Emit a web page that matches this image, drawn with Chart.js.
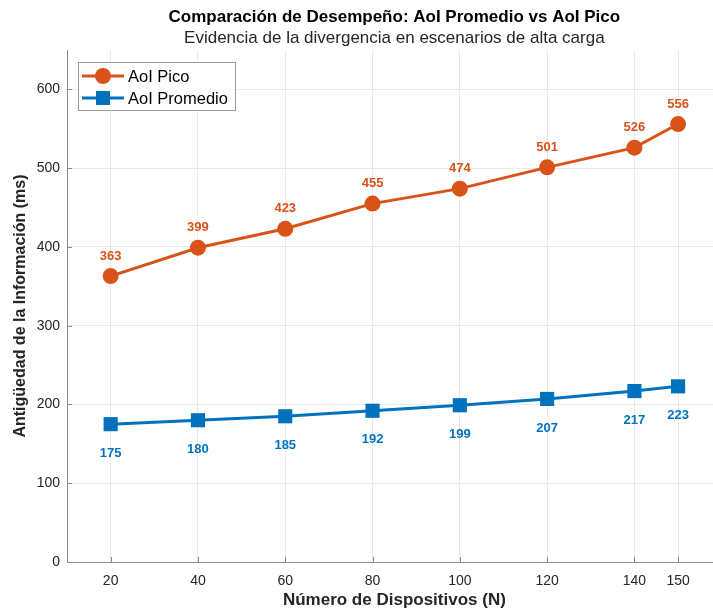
<!DOCTYPE html>
<html>
<head>
<meta charset="utf-8">
<script src="https://cdn.jsdelivr.net/npm/chart.js@4.4.1/dist/chart.umd.min.js"></script>
<style>
  html, body { margin: 0; padding: 0; background: #ffffff; }
  #wrap { width: 713px; height: 612px; }
</style>
</head>
<body>
<div id="wrap"><canvas id="c" width="713" height="612"></canvas></div>
<script>
// Number of devices on the x axis
const devices = [20, 40, 60, 80, 100, 120, 140, 150];
// Peak AoI (ms) for each device count
const aoiPico = [363, 399, 423, 455, 474, 501, 526, 556];
// Average AoI (ms) for each device count
const aoiPromedio = [175, 180, 185, 192, 199, 207, 217, 223];
// Tick values
const xTicks = [20, 40, 60, 80, 100, 120, 140, 150];
const yTicks = [0, 100, 200, 300, 400, 500, 600];

const ORANGE = '#D95319';
const BLUE = '#0072BD';
const AXIS = '#8a8a8a';
const TEXT = '#262626';
const FONT = '"Liberation Sans", Arial, Helvetica, sans-serif';

const titleText = 'Comparación de Desempeño: AoI Promedio vs AoI Pico';
const subtitleText = 'Evidencia de la divergencia en escenarios de alta carga';
const xTitle = 'Número de Dispositivos (N)';
const yTitle = 'Antigüedad de la Información (ms)';

// Titles, axis titles, inward tick marks, value labels and legend box
const decorations = {
  id: 'decorations',
  beforeDatasetsDraw(chart) {
    const { ctx, chartArea: a, scales: { x, y } } = chart;
    ctx.save();
    ctx.strokeStyle = AXIS;
    ctx.lineWidth = 1;
    ctx.beginPath();
    xTicks.forEach(v => {
      const px = Math.round(x.getPixelForValue(v)) + 0.5;
      ctx.moveTo(px, a.bottom);
      ctx.lineTo(px, a.bottom - 5);
    });
    yTicks.forEach(v => {
      const py = Math.round(y.getPixelForValue(v)) + 0.5;
      ctx.moveTo(a.left, py);
      ctx.lineTo(a.left + 5, py);
    });
    ctx.stroke();
    ctx.restore();
  },
  afterDatasetsDraw(chart) {
    const { ctx, chartArea: a, scales: { x, y } } = chart;
    ctx.save();
    const cx = (a.left + x.getPixelForValue(160)) / 2;

    // titles
    ctx.fillStyle = '#000000';
    ctx.textAlign = 'center';
    ctx.textBaseline = 'middle';
    ctx.font = 'bold 17px ' + FONT;
    ctx.fillText(titleText, cx, 17);
    ctx.fillStyle = TEXT;
    ctx.font = '17px ' + FONT;
    ctx.fillText(subtitleText, cx, 38);

    // axis titles
    ctx.fillStyle = TEXT;
    ctx.font = 'bold 17px ' + FONT;
    ctx.fillText(xTitle, cx, 600);
    ctx.save();
    ctx.font = 'bold 16px ' + FONT;
    ctx.translate(21, (a.top + a.bottom) / 2);
    ctx.rotate(-Math.PI / 2);
    ctx.fillText(yTitle, 0, 0);
    ctx.restore();

    // value labels
    ctx.font = 'bold 13px ' + FONT;
    ctx.fillStyle = ORANGE;
    devices.forEach((d, i) => {
      ctx.fillText(String(aoiPico[i]), x.getPixelForValue(d), y.getPixelForValue(aoiPico[i]) - 20);
    });
    ctx.fillStyle = BLUE;
    devices.forEach((d, i) => {
      ctx.fillText(String(aoiPromedio[i]), x.getPixelForValue(d), y.getPixelForValue(aoiPromedio[i]) + 29);
    });

    // legend
    const lx = 78, ly = 62, lw = 157, lh = 48;
    ctx.fillStyle = '#ffffff';
    ctx.fillRect(lx, ly, lw, lh);
    ctx.strokeStyle = '#9a9a9a';
    ctx.lineWidth = 1;
    ctx.strokeRect(lx + 0.5, ly + 0.5, lw, lh);
    const rows = [
      { label: 'AoI Pico', color: ORANGE, style: 'circle', y: ly + 14 },
      { label: 'AoI Promedio', color: BLUE, style: 'rect', y: ly + 36 }
    ];
    rows.forEach(r => {
      ctx.strokeStyle = r.color;
      ctx.lineWidth = 3;
      ctx.beginPath();
      ctx.moveTo(lx + 4, r.y);
      ctx.lineTo(lx + 46, r.y);
      ctx.stroke();
      ctx.fillStyle = r.color;
      if (r.style === 'circle') {
        ctx.beginPath();
        ctx.arc(lx + 25, r.y, 8, 0, Math.PI * 2);
        ctx.fill();
      } else {
        ctx.fillRect(lx + 25 - 7, r.y - 7, 14, 14);
      }
      ctx.fillStyle = '#000000';
      ctx.textAlign = 'left';
      ctx.font = '16.5px ' + FONT;
      ctx.fillText(r.label, lx + 50, r.y + 1);
    });
    ctx.restore();
  }
};

new Chart(document.getElementById('c'), {
  type: 'line',
  data: {
    datasets: [
      {
        label: 'AoI Pico',
        data: devices.map((d, i) => ({ x: d, y: aoiPico[i] })),
        borderColor: ORANGE,
        backgroundColor: ORANGE,
        borderWidth: 3,
        pointStyle: 'circle',
        pointRadius: 8,
        pointBorderWidth: 0,
        tension: 0
      },
      {
        label: 'AoI Promedio',
        data: devices.map((d, i) => ({ x: d, y: aoiPromedio[i] })),
        borderColor: BLUE,
        backgroundColor: BLUE,
        borderWidth: 3,
        pointStyle: 'rect',
        pointRadius: 10,
        pointBorderWidth: 0,
        tension: 0
      }
    ]
  },
  options: {
    responsive: false,
    animation: false,
    events: [],
    layout: { autoPadding: false, padding: { top: 50, left: 0, right: 0, bottom: 0 } },
    plugins: {
      legend: { display: false },
      title: { display: false },
      tooltip: { enabled: false }
    },
    scales: {
      x: {
        type: 'linear',
        min: 10,
        max: 158,
        afterBuildTicks(scale) { scale.ticks = xTicks.map(v => ({ value: v })); },
        afterFit(scale) {
          scale.height = 50;
          scale.paddingLeft = 0;
          scale.paddingRight = 0;
        },
        grid: { color: '#e9e9e9', lineWidth: 1, drawTicks: false },
        border: { color: AXIS, width: 1 },
        ticks: {
          padding: 11,
          color: TEXT,
          font: { family: FONT, size: 14 },
          maxRotation: 0,
          autoSkip: false,
          callback: v => String(v)
        }
      },
      y: {
        type: 'linear',
        min: 0,
        max: 650,
        afterBuildTicks(scale) { scale.ticks = yTicks.map(v => ({ value: v })); },
        afterFit(scale) {
          scale.width = 67;
          scale.paddingTop = 0;
          scale.paddingBottom = 0;
        },
        grid: { color: '#e9e9e9', lineWidth: 1, drawTicks: false },
        border: { color: AXIS, width: 1 },
        ticks: {
          padding: 7,
          color: TEXT,
          font: { family: FONT, size: 14 },
          callback: v => String(v)
        }
      }
    }
  },
  plugins: [decorations]
});
</script>
</body>
</html>
